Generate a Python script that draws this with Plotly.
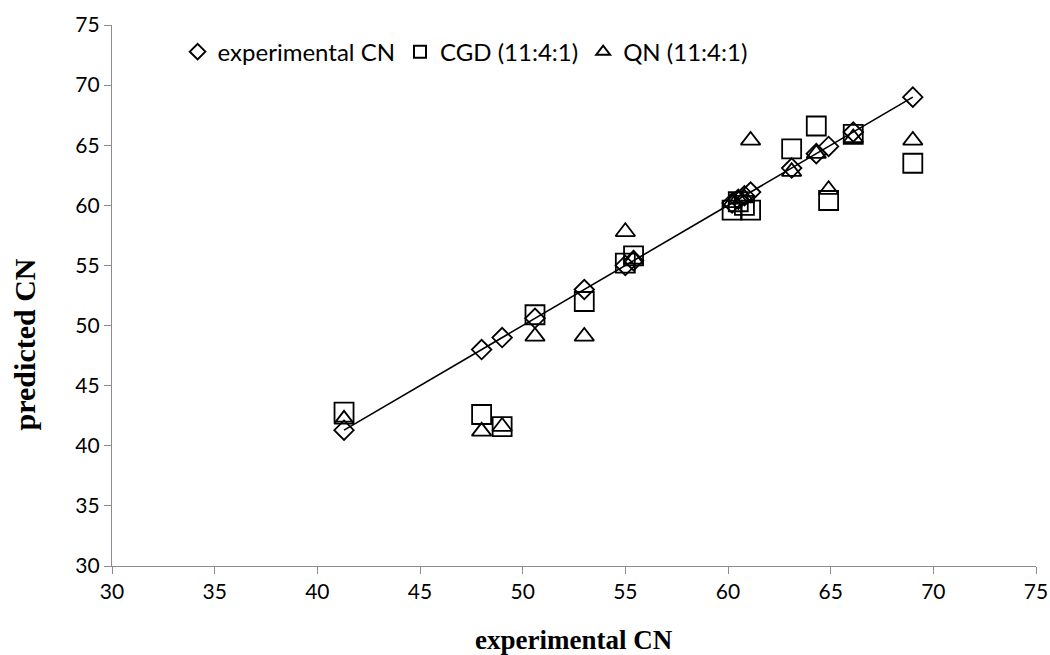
import plotly.graph_objects as go

# Data
experimental_cn = [41.3, 48.0, 49.0, 50.6, 53.0, 55.0, 55.4, 60.2, 60.5, 60.8, 61.1, 63.1, 64.3, 64.9, 66.1, 69.0]
predicted_exp = [41.3, 48.0, 49.0, 50.6, 53.0, 55.0, 55.4, 60.2, 60.5, 60.8, 61.1, 63.1, 64.3, 64.9, 66.1, 69.0]
predicted_cgd = [42.8, 42.6, 41.6, 50.9, 52.0, 55.2, 55.8, 59.6, 60.3, 60.0, 59.6, 64.7, 66.6, 60.4, 65.9, 63.5]
predicted_qn = [42.2, 41.2, 41.6, 49.1, 49.1, 57.8, 55.5, 60.2, 60.5, 60.6, 65.4, 62.8, 64.3, 61.3, 65.6, 65.4]

series_names = ["experimental CN", "CGD (11:4:1)", "QN (11:4:1)"]
tick_values = [30, 35, 40, 45, 50, 55, 60, 65, 70, 75]
x_title = "experimental CN"
y_title = "predicted CN"

fig = go.Figure()

# trend line through the experimental points (y = x)
fig.add_trace(go.Scatter(
    x=[min(experimental_cn), max(experimental_cn)],
    y=[min(predicted_exp), max(predicted_exp)],
    mode="lines", line=dict(color="black", width=1.6),
    showlegend=False, hoverinfo="skip"))

fig.add_trace(go.Scatter(
    x=experimental_cn, y=predicted_exp, mode="markers", name=series_names[0],
    marker=dict(symbol="diamond-open", size=15, color="black", line=dict(width=1.8, color="black"))))
fig.add_trace(go.Scatter(
    x=experimental_cn, y=predicted_cgd, mode="markers", name=series_names[1],
    marker=dict(symbol="square-open", size=19, color="black", line=dict(width=1.8, color="black"))))
fig.add_trace(go.Scatter(
    x=experimental_cn, y=predicted_qn, mode="markers", name=series_names[2],
    marker=dict(symbol="triangle-up-open", size=17, color="black", line=dict(width=1.8, color="black"))))

axis_common = dict(
    range=[30, 75], tickvals=tick_values, showgrid=False, zeroline=False,
    showline=True, linecolor="#8c8c8c", linewidth=1.2, automargin=False,
    ticks="outside", ticklen=7, tickcolor="#8c8c8c", tickwidth=1.2,
    tickfont=dict(family="Lato", size=21, color="black"),
)

fig.update_layout(
    width=1050, height=655,
    margin=dict(l=112, r=14, t=25, b=89),
    paper_bgcolor="white", plot_bgcolor="white",
    xaxis=dict(**axis_common),
    yaxis=dict(**axis_common),
    legend=dict(orientation="h", x=0.071, xanchor="left", y=0.95, yanchor="middle",
                font=dict(family="Lato", size=24, color="black"),
                itemsizing="constant", bgcolor="rgba(0,0,0,0)", tracegroupgap=0),
    showlegend=True,
    annotations=[
        dict(text="<b>" + y_title + "</b>", textangle=-90,
             xref="paper", yref="paper", x=-0.095, y=0.41,
             xanchor="center", yanchor="middle", showarrow=False,
             font=dict(family="Liberation Serif", size=30, color="black")),
        dict(text="<b>" + x_title + "</b>",
             xref="paper", yref="paper", x=0.5, y=-0.137,
             xanchor="center", yanchor="middle", showarrow=False,
             font=dict(family="Liberation Serif", size=27, color="black")),
    ],
)

fig.write_html("out.html")
